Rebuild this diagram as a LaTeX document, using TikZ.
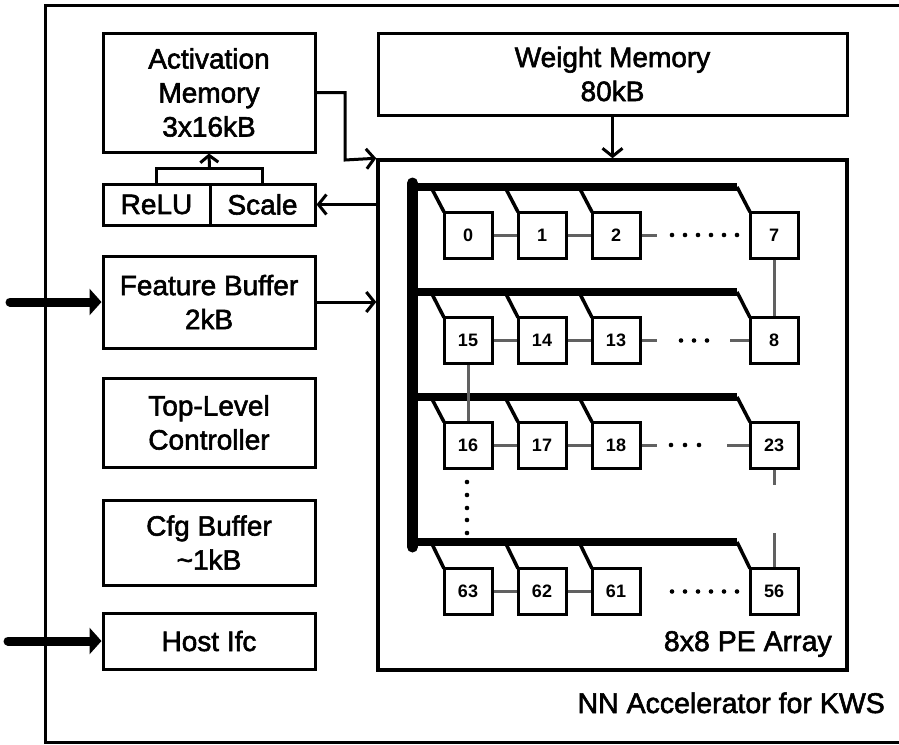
\documentclass[tikz,border=0pt]{standalone}
\usepackage{fontspec}
\setmainfont{Liberation Sans}
\newfontfamily\heavyfont{Liberation Sans}[FakeBold=2]
\usetikzlibrary{arrows.meta}

\tikzset{
  blk/.style={draw, line width=3pt, align=center, inner sep=0pt,
    font=\heavyfont\fontsize{28}{34}\selectfont},
  pebox/.style={draw, line width=3pt, fill=white, minimum width=48pt, minimum height=46pt,
    inner sep=0pt, font=\fontsize{18}{18}\selectfont\bfseries},
  link/.style={line width=3pt, color=black!62},
  bus/.style={line width=8pt},
  vbus/.style={line width=11pt, line cap=round},
  tap/.style={line width=3.5pt},
  arr/.style={line width=3pt, -{Straight Barb[length=8pt,width=20pt,line width=3pt]}},
  fat/.style={line width=9pt, line cap=round, -{Triangle[length=12pt,width=26pt]}},
  lbl/.style={font=\heavyfont\fontsize{28.5}{34}\selectfont, inner sep=0pt},
}

\begin{document}
\begin{tikzpicture}[x=1pt, y=-1pt]
\useasboundingbox (0,0) rectangle (899,744);

% outer frame
\draw[line width=3pt] (910,5) -- (45,5) -- (45,742) -- (910,742);

% left column blocks
\node[blk, minimum width=212pt, minimum height=119pt] (act) at (209,92.5) {Activation\\Memory\\3x16kB};
\node[blk, minimum width=107pt, minimum height=41pt] (relu) at (156.5,204.5) {ReLU};
\node[blk, minimum width=105pt, minimum height=41pt] (scale) at (262.5,204.5) {Scale};
\node[blk, minimum width=212pt, minimum height=92pt] (feat) at (209,302) {Feature Buffer\\2kB};
\node[blk, minimum width=212pt, minimum height=89pt] (ctrl) at (209,422.5) {Top-Level\\Controller};
\node[blk, minimum width=212pt, minimum height=85pt] (cfg) at (209,542.5) {Cfg Buffer\\\textasciitilde1kB};
\node[blk, minimum width=212pt, minimum height=56pt] (host) at (209,641) {Host Ifc};

% weight memory and PE array
\node[blk, minimum width=469pt, minimum height=82pt] (wmem) at (612.5,74) {Weight Memory\\80kB};
\node[draw, line width=3.5pt, minimum width=469pt, minimum height=510pt] (pe) at (612.5,415) {};
\node[lbl, anchor=base east] (pelbl) at (832,651) {8x8 PE Array};
\node[lbl, anchor=base east] (title) at (885,713) {NN Accelerator for KWS};

% external inputs
\coordinate (inA) at (10,302);
\coordinate (inB) at (8,641);
\draw[fat] (inA) -- (feat.west);
\draw[fat] (inB) -- (host.west);

% ReLU/Scale merge into activation memory
\coordinate (mrg) at (209.5,168);
\draw[line width=3pt] (relu.north) |- (mrg) -| (scale.north);
\draw[line width=3pt, -{Straight Barb[length=7pt,width=18pt,line width=3pt]}] (mrg) -- (act.south);

% data paths into / out of the PE array
\draw[arr] (act.east) -- (345,92.5) -- (345,160) -- (pe.north west);
\draw[arr] (wmem.south) -- (pe.north);
\draw[arr] (feat.east) -- (pe.west |- feat.east);
\draw[arr] (pe.west |- scale.east) -- (scale.east);

% PE grid
\foreach \n/\x/\y in {0/468/235, 1/542/235, 2/616/235, 7/774/235,
                      15/468/340.5, 14/542/340.5, 13/616/340.5, 8/774/340.5,
                      16/468/445, 17/542/445, 18/616/445, 23/774/445,
                      63/468/591.5, 62/542/591.5, 61/616/591.5, 56/774/591.5}
  \node[pebox] (p\n) at (\x,\y) {\n};

% broadcast buses
\draw[vbus] (412.5,183) -- (412.5,547);
\foreach \b/\t in {187/212, 292/317.5, 397/422, 542/568.5} {
  \draw[bus] (410,\b) -- (737,\b);
  \draw[tap] (737,\b) -- (750,\t);
  \foreach \l in {444,518,592}
    \draw[tap] (\l-12,\b+2) -- (\l,\t);
}

% neighbour links
\draw[link] (p0) -- (p1);  \draw[link] (p1) -- (p2);
\draw[link] (p15) -- (p14); \draw[link] (p14) -- (p13);
\draw[link] (p16) -- (p17); \draw[link] (p17) -- (p18);
\draw[link] (p63) -- (p62); \draw[link] (p62) -- (p61);
\coordinate (s0) at (657,235);
\coordinate (s1) at (657,340.5);
\coordinate (s1b) at (730,340.5);
\coordinate (s2) at (657,445);
\coordinate (s2b) at (727,445);
\draw[link] (p2.east) -- (s0);
\draw[link] (p13.east) -- (s1);
\draw[link] (s1b) -- (p8.west);
\draw[link] (p18.east) -- (s2);
\draw[link] (s2b) -- (p23.west);
\draw[link] (p7) -- (p8);
\draw[link] (p15) -- (p16);
\coordinate (v1) at (774,485);
\coordinate (v2) at (774,533);
\draw[link] (p23.south) -- (v1);
\draw[link] (v2) -- (p56.north);

% ellipsis dots
\foreach \i in {0,...,5} {
  \fill (672+13*\i,235) circle (2.3pt);
  \fill (672+13*\i,591.5) circle (2.3pt);
}
\foreach \x in {681,694,707} \fill (\x,340.5) circle (2.3pt);
\foreach \x in {671,685,699} \fill (\x,445) circle (2.3pt);
\foreach \y in {482,495,508,520,533} \fill (467,\y) circle (2.3pt);
\end{tikzpicture}
\end{document}
